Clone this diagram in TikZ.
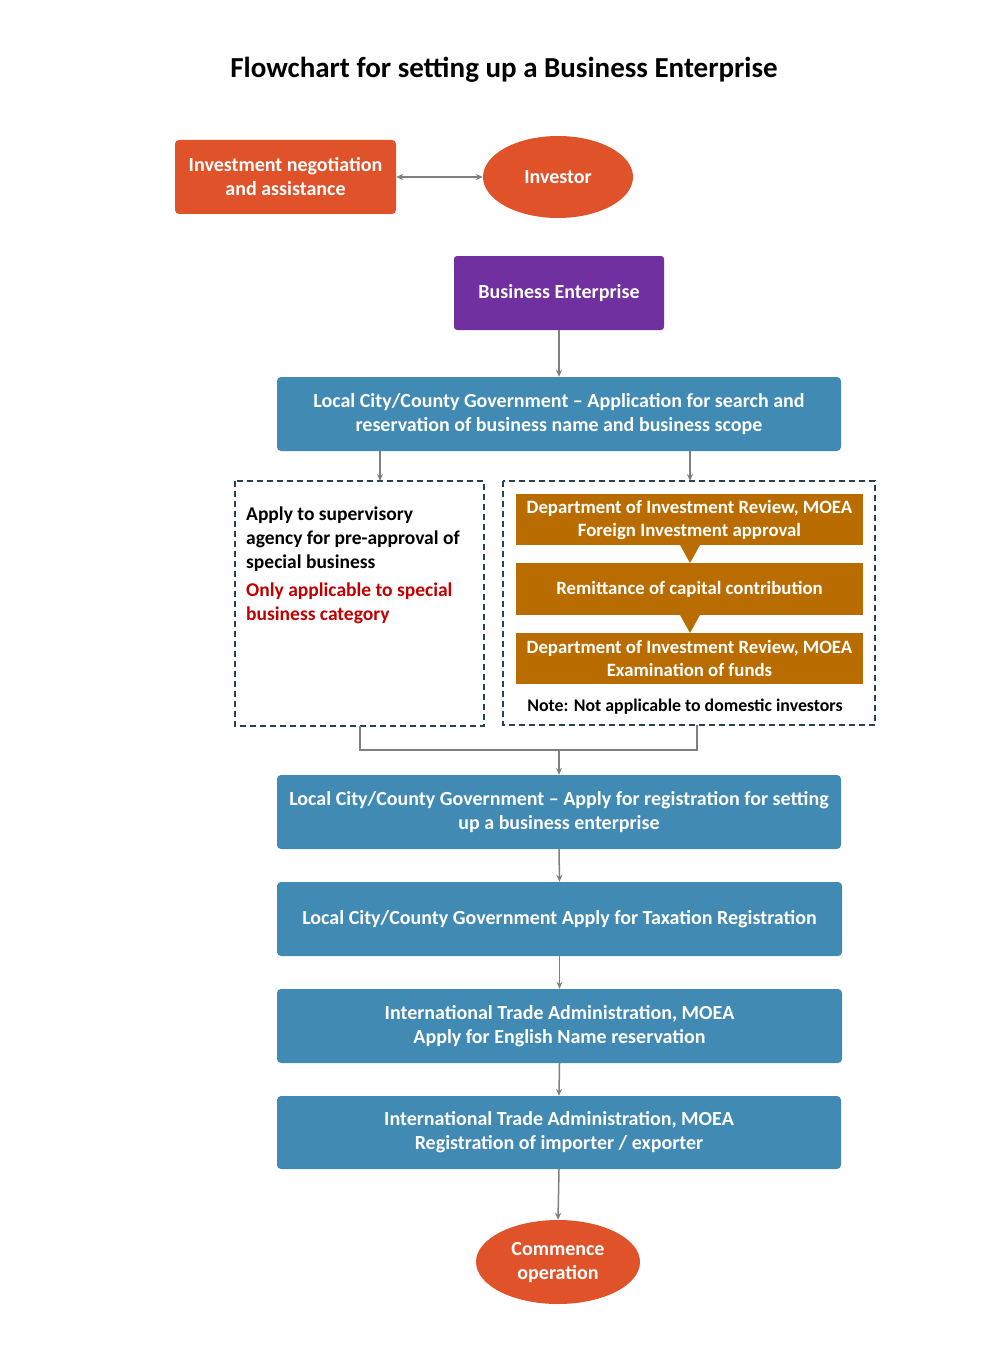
\documentclass[tikz,border=0pt]{standalone}
\usepackage{fontspec}
\setmainfont{Carlito}
\usetikzlibrary{arrows.meta,shapes.geometric,positioning}
\definecolor{orangered}{HTML}{E0532A}
\definecolor{bizpurple}{HTML}{7030A0}
\definecolor{stepblue}{HTML}{418AB3}
\definecolor{gold}{HTML}{B96D00}
\definecolor{dashcol}{HTML}{2A4150}
\definecolor{linegray}{HTML}{7F7F7F}
\definecolor{notered}{HTML}{C00000}
\begin{document}
\begin{tikzpicture}[x=1pt,y=-1pt,
  txt/.style={font=\bfseries\fontsize{20}{24}\selectfont, text=white, align=center},
  redbox/.style={txt, fill=orangered, rounded corners=4pt, inner sep=0pt},
  bluebox/.style={txt, fill=stepblue, rounded corners=4pt, minimum width=564pt, minimum height=74pt, inner sep=0pt},
  goldbox/.style={font=\bfseries\fontsize{18.8}{23}\selectfont, text=white, align=center, fill=gold, minimum width=347pt, inner sep=0pt},
  oval/.style={txt, ellipse, fill=orangered, inner sep=0pt},
  dashbox/.style={draw=dashcol, dash pattern=on 6pt off 4pt, line width=1.5pt},
  conn/.style={draw=linegray, line width=1.5pt},
  arr/.style={conn, -{Stealth[length=7pt,width=6pt]}},
  tri/.style={fill=gold}
]
\useasboundingbox (0,0) rectangle (1008,1356);

\node[font=\bfseries\fontsize{29}{32}\selectfont] (title) at (504,70) {Flowchart for setting up a Business Enterprise};

\node[redbox, minimum width=221pt, minimum height=74pt] (neg) at (285.5,177) {Investment negotiation\\and assistance};
\node[oval, minimum width=150pt, minimum height=82pt] (inv) at (558,177) {Investor};
\draw[conn, {Stealth[length=7pt,width=6pt]}-{Stealth[length=7pt,width=6pt]}] (neg.east |- inv.west) -- (inv.west);

\node[txt, fill=bizpurple, rounded corners=3pt, minimum width=210pt, minimum height=74pt, inner sep=0pt] (biz) at (559,293) {Business Enterprise};

\node[bluebox] (b1) at (559,414) {Local City/County Government -- Application for search and\\reservation of business name and business scope};
\draw[arr] (biz.south) -- (b1.north);

% dashed boxes
\draw[dashbox] (235,481) rectangle (484,726);
\coordinate (lefttop) at (380,481);
\coordinate (leftbot) at (360,726);
\draw[dashbox] (503,481) rectangle (875,725);
\coordinate (righttop) at (690,481);
\coordinate (rightbot) at (697,725);

\coordinate (b1l) at (380,451);
\coordinate (b1r) at (690,451);
\draw[arr] (b1l) -- (lefttop);
\draw[arr] (b1r) -- (righttop);

\node[anchor=north west, align=left, inner sep=0pt, font=\bfseries\fontsize{19.5}{24}\selectfont] (spec) at (246,507)
 {Apply to supervisory\\agency for pre-approval of\\special business\\[4pt]\textcolor{notered}{Only applicable to special}\\\textcolor{notered}{business category}};

\node[goldbox, minimum height=51pt] (g1) at (689.5,519.5) {Department of Investment Review, MOEA\\Foreign Investment approval};
\node[goldbox, minimum height=52pt] (g2) at (689.5,589) {Remittance of capital contribution};
\node[goldbox, minimum height=51pt] (g3) at (689.5,658.5) {Department of Investment Review, MOEA\\Examination of funds};
\fill[tri] (680,545) -- (700,545) -- (690,563) -- cycle;
\fill[tri] (680,615) -- (700,615) -- (690,633) -- cycle;
\node[font=\bfseries\fontsize{17.8}{20}\selectfont, inner sep=0pt] (note) at (685,707) {Note: Not applicable to domestic investors};

\node[bluebox] (b2) at (559,812) {Local City/County Government -- Apply for registration for setting\\up a business enterprise};
\coordinate (join) at (559,750);
\draw[conn] (leftbot) |- (join) -| (rightbot);
\draw[arr] (join) -- (b2.north);

\node[bluebox, minimum width=565pt] (b3) at (559.5,919) {Local City/County Government Apply for Taxation Registration};
\draw[arr] (b2.south) -- (b3.north);

\node[bluebox, minimum width=565pt] (b4) at (559.5,1026) {International Trade Administration, MOEA\\Apply for English Name reservation};
\draw[arr] (b3.south) -- (b4.north);

\node[bluebox, minimum height=73pt] (b5) at (559,1132.5) {International Trade Administration, MOEA\\Registration of importer / exporter};
\draw[arr] (b4.south) -- (b5.north);

\node[oval, minimum width=164pt, minimum height=84pt] (end) at (558,1262) {Commence\\operation};
\draw[arr] (b5.south) -- (end.north);
\end{tikzpicture}
\end{document}
